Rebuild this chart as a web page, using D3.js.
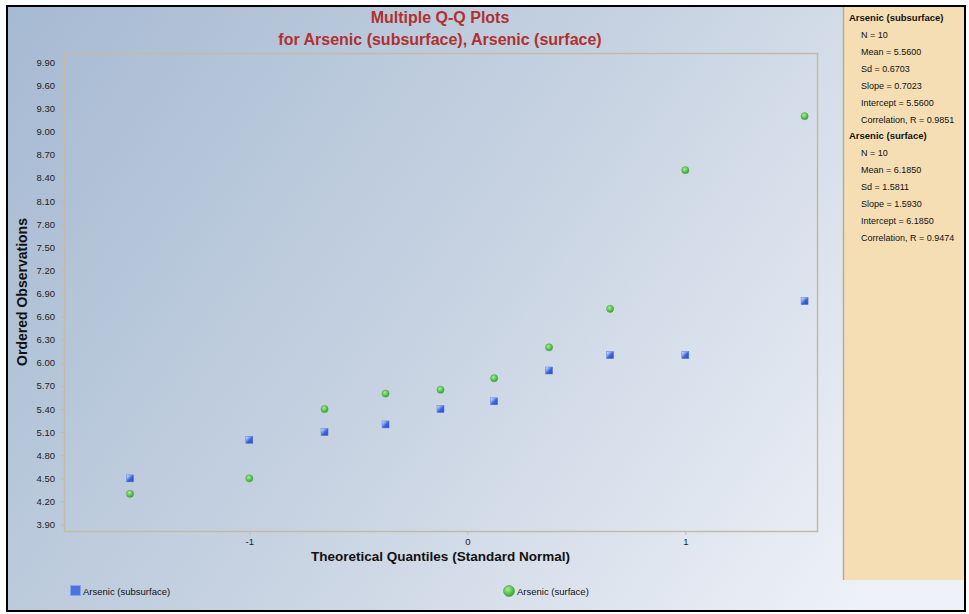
<!DOCTYPE html>
<html>
<head>
<meta charset="utf-8">
<script src="https://cdn.jsdelivr.net/npm/d3@7"></script>
<style>
  html, body { margin: 0; padding: 0; background: #fff; }
  svg { display: block; font-family: "Liberation Sans", Arial, sans-serif; }
</style>
</head>
<body>
<svg id="chart" width="969" height="614"></svg>
<script>
// theoretical normal quantiles (x) and ordered observations (y)
const quantiles = [-1.547, -1.0, -0.655, -0.375, -0.123, 0.123, 0.375, 0.655, 1.0, 1.547];
const subsurface = [4.50, 5.00, 5.10, 5.20, 5.40, 5.50, 5.90, 6.10, 6.10, 6.80];
const surface = [4.30, 4.50, 5.40, 5.60, 5.65, 5.80, 6.20, 6.70, 8.50, 9.20];

const seriesNames = ["Arsenic (subsurface)", "Arsenic (surface)"];
const yTicks = [3.90, 4.20, 4.50, 4.80, 5.10, 5.40, 5.70, 6.00, 6.30, 6.60, 6.90, 7.20, 7.50, 7.80, 8.10, 8.40, 8.70, 9.00, 9.30, 9.60, 9.90];
const xTicks = [-1, 0, 1];

const statLabels = ["N", "Mean", "Sd", "Slope", "Intercept", "Correlation, R"];
const subsurfaceStats = ["10", "5.5600", "0.6703", "0.7023", "5.5600", "0.9851"];
const surfaceStats = ["10", "6.1850", "1.5811", "1.5930", "6.1850", "0.9474"];

const W = 969, H = 614;
const plot = { left: 64, right: 817, top: 53, bottom: 531 };

const svg = d3.select("#chart");
const defs = svg.append("defs");

// background gradient
const bg = defs.append("linearGradient").attr("id", "bg")
  .attr("gradientUnits", "userSpaceOnUse")
  .attr("x1", 0).attr("y1", 0).attr("x2", 860).attr("y2", 614);
bg.append("stop").attr("offset", "0%").attr("stop-color", "#a5b9d2");
bg.append("stop").attr("offset", "50%").attr("stop-color", "#c6d2e1");
bg.append("stop").attr("offset", "100%").attr("stop-color", "#eef1f8");

const sq = defs.append("linearGradient").attr("id", "sq")
  .attr("x1", 0).attr("y1", 0).attr("x2", 1).attr("y2", 1);
sq.append("stop").attr("offset", "0%").attr("stop-color", "#e6edfc");
sq.append("stop").attr("offset", "30%").attr("stop-color", "#8aa8f0");
sq.append("stop").attr("offset", "55%").attr("stop-color", "#3a63d6");
sq.append("stop").attr("offset", "100%").attr("stop-color", "#2a4fb8");

const ci = defs.append("radialGradient").attr("id", "ci")
  .attr("cx", "40%").attr("cy", "35%").attr("r", "65%");
ci.append("stop").attr("offset", "0%").attr("stop-color", "#a8ee98");
ci.append("stop").attr("offset", "60%").attr("stop-color", "#5cc64e");
ci.append("stop").attr("offset", "100%").attr("stop-color", "#3f9a3a");

svg.append("rect").attr("x", 0).attr("y", 0).attr("width", W).attr("height", H).attr("fill", "#fff");
svg.append("rect").attr("x", 7).attr("y", 6).attr("width", 958).attr("height", 605).attr("fill", "url(#bg)");

// stats panel
svg.append("rect").attr("x", 843).attr("y", 7).attr("width", 123).attr("height", 573).attr("fill", "#f5deb3");
svg.append("line").attr("x1", 843.5).attr("x2", 843.5).attr("y1", 7).attr("y2", 580)
  .attr("stroke", "#b9ad95").attr("stroke-width", 1.5);

// outer frame
svg.append("rect").attr("x", 7).attr("y", 6).attr("width", 958).attr("height", 605)
  .attr("fill", "none").attr("stroke", "#000").attr("stroke-width", 2);

const x = d3.scaleLinear().domain([-1.85, 1.604]).range([plot.left, plot.right]);
const y = d3.scaleLinear().domain([3.817, 10.02]).range([plot.bottom, plot.top]);

// plot frame
svg.append("rect").attr("x", plot.left + 0.5).attr("y", plot.top + 0.5)
  .attr("width", plot.right - plot.left).attr("height", plot.bottom - plot.top)
  .attr("fill", "none").attr("stroke", "#c2bca6").attr("stroke-width", 1.5);

// axes
const yAxis = svg.append("g").attr("transform", `translate(${plot.left},0)`)
  .call(d3.axisLeft(y).tickValues(yTicks).tickFormat(d3.format(".2f")).tickSize(4).tickPadding(5));
const xAxis = svg.append("g").attr("transform", `translate(0,${plot.bottom})`)
  .call(d3.axisBottom(x).tickValues(xTicks).tickFormat(d => String(d)).tickSize(4).tickPadding(3));
[yAxis, xAxis].forEach(a => {
  a.select(".domain").remove();
  a.selectAll(".tick line").attr("stroke", "#c2bca6");
  a.selectAll(".tick text").attr("fill", "#222").style("font-size", "9.5px")
    .style("font-family", "'Liberation Sans', Arial, sans-serif");
});

// titles
const title = svg.append("text").attr("x", 440).attr("text-anchor", "middle")
  .attr("fill", "#b0312f").style("font-weight", "bold").style("font-size", "16px");
title.append("tspan").attr("x", 440).attr("y", 23).text("Multiple Q-Q Plots");
title.append("tspan").attr("x", 440).attr("y", 45).text("for " + seriesNames.join(", "));

svg.append("text").attr("x", (plot.left + plot.right) / 2).attr("y", 561)
  .attr("text-anchor", "middle").attr("fill", "#111")
  .style("font-weight", "bold").style("font-size", "13.5px")
  .text("Theoretical Quantiles (Standard Normal)");

svg.append("text").attr("transform", `translate(27,${(plot.top + plot.bottom) / 2}) rotate(-90)`)
  .attr("text-anchor", "middle").attr("fill", "#111")
  .style("font-weight", "bold").style("font-size", "14px")
  .text("Ordered Observations");

// points
const pts = svg.append("g");
pts.selectAll("rect.sub").data(subsurface).join("rect").attr("class", "sub")
  .attr("x", (d, i) => x(quantiles[i]) - 3.5).attr("y", d => y(d) - 3.5)
  .attr("width", 7).attr("height", 7).attr("fill", "url(#sq)")
  .attr("stroke", "#5077d8").attr("stroke-width", 0.5);
pts.selectAll("circle.surf").data(surface).join("circle").attr("class", "surf")
  .attr("cx", (d, i) => x(quantiles[i])).attr("cy", d => y(d)).attr("r", 3.6)
  .attr("fill", "url(#ci)").attr("stroke", "#4aa444").attr("stroke-width", 0.5);

// legend
const legend = svg.append("g").style("font-size", "9.5px").attr("fill", "#111");
legend.append("rect").attr("x", 70.5).attr("y", 585.5).attr("width", 10).attr("height", 10)
  .attr("fill", "#4a74e0").attr("stroke", "#86a4ec").attr("stroke-width", 1);
legend.append("text").attr("x", 83).attr("y", 594.5).text(seriesNames[0]);
legend.append("circle").attr("cx", 509).attr("cy", 591).attr("r", 5.5)
  .attr("fill", "url(#ci)").attr("stroke", "#4aa444").attr("stroke-width", 0.6);
legend.append("text").attr("x", 517).attr("y", 594.5).text(seriesNames[1]);

// stats panel text
const panel = svg.append("g").attr("fill", "#111");
let py = 21;
[[seriesNames[0], subsurfaceStats], [seriesNames[1], surfaceStats]].forEach(([name, vals]) => {
  panel.append("text").attr("x", 849).attr("y", py)
    .style("font-weight", "bold").style("font-size", "9.5px").text(name);
  py += 17;
  statLabels.forEach((lab, i) => {
    panel.append("text").attr("x", 861).attr("y", py).style("font-size", "9px")
      .text(`${lab} = ${vals[i]}`);
    py += 17;
  });
  py -= 1;
});
</script>
</body>
</html>
